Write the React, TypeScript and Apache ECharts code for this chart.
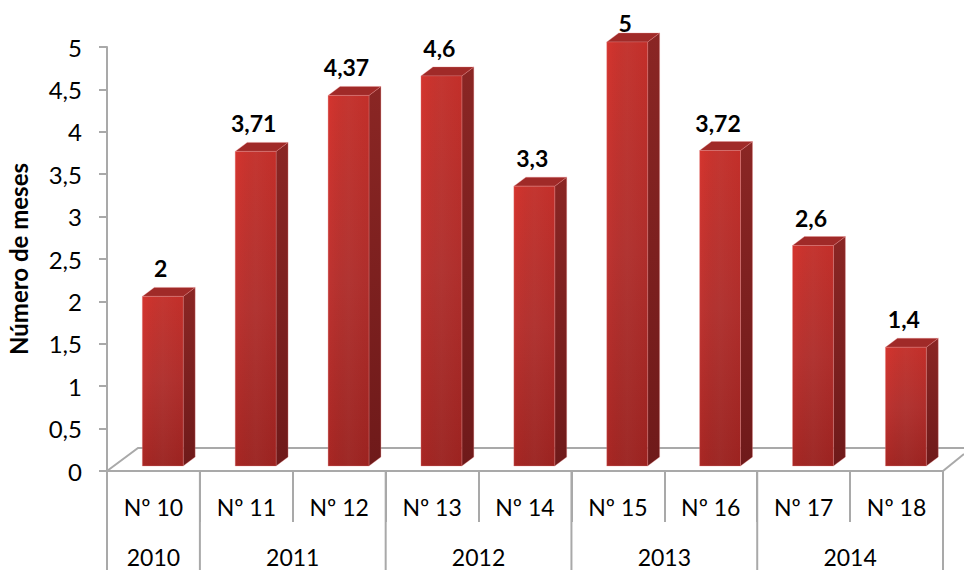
import React, { useEffect, useRef } from "react";
import * as echarts from "echarts";

const categories = ["Nº 10", "Nº 11", "Nº 12", "Nº 13", "Nº 14", "Nº 15", "Nº 16", "Nº 17", "Nº 18"];
const values = [2, 3.71, 4.37, 4.6, 3.3, 5, 3.72, 2.6, 1.4];
const yearLabels = ["2010", "2011", "2012", "2013", "2014"];
const yearSpans = [1, 2, 2, 2, 2];

const FONT = "Lato, Carlito, sans-serif";
const GREY = "#a9a9a9";
const comma = (v: number) => String(v).replace(".", ",");

const yearData: number[][] = [];
let cursor = 0;
yearSpans.forEach((s) => {
  yearData.push([cursor, 0]);
  cursor += s;
});

function v(stops: string[], horizontal = true) {
  return new echarts.graphic.LinearGradient(
    0,
    0,
    horizontal ? 1 : 0,
    horizontal ? 0 : 1,
    stops.map((color, i) => ({ offset: i / (stops.length - 1), color }))
  );
}

function renderBar(params: any, api: any) {
  const band = api.size([1, 0])[0];
  const val = api.value(1);
  const base = api.coord([api.value(0), 0]);
  const top = api.coord([api.value(0), val]);
  const w = band * 0.44;
  const dx = 12;
  const dy = 9;
  const x0 = base[0] + band * 0.1 - w / 2;
  const x1 = x0 + w;
  const yb = base[1] - 5;
  const yt = top[1] - 5;
  const halo = "rgba(235,140,140,0.55)";
  const labelY = Math.max(yt - 27, 24);
  return {
    type: "group",
    children: [
      {
        type: "polygon",
        shape: { points: [[x1, yt], [x1 + dx, yt - dy], [x1 + dx, yb - dy], [x1, yb]] },
        style: { fill: v(["#8a2624", "#6f1a1a"], false), stroke: halo, lineWidth: 0.6 },
      },
      {
        type: "polygon",
        shape: { points: [[x0, yt], [x0 + dx, yt - dy], [x1 + dx, yt - dy], [x1, yt]] },
        style: { fill: "#a02a28", stroke: halo, lineWidth: 0.6 },
      },
      {
        type: "rect",
        shape: { x: x0, y: yt, width: w, height: yb - yt },
        style: { fill: v(["#d5352f", "#bf3431", "#a92724"], false), stroke: halo, lineWidth: 0.6 },
      },
      {
        type: "rect",
        shape: { x: x0, y: yt, width: w, height: yb - yt },
        style: { fill: v(["rgba(0,0,0,0)", "rgba(90,60,60,0.14)", "rgba(60,0,0,0.12)"], true) },
      },
      {
        type: "text",
        style: {
          text: comma(val),
          x: (x0 + x1) / 2 - 2,
          y: labelY - 1,
          textAlign: "center",
          textVerticalAlign: "middle",
          fill: "#000",
          font: `bold 23px ${FONT}`,
        },
      },
    ],
  };
}

function renderYear(params: any, api: any) {
  const band = api.size([1, 0])[0];
  const i = params.dataIndex;
  const span = yearSpans[i];
  const first = api.coord([api.value(0), 0]);
  const xs = first[0] - band / 2;
  const xe = xs + band * span;
  const y0 = first[1];
  const children: any[] = [
    {
      type: "line",
      shape: { x1: xs, y1: y0, x2: xs, y2: 570 },
      style: { stroke: GREY, lineWidth: 2 },
    },
    {
      type: "text",
      style: {
        text: yearLabels[i],
        x: (xs + xe) / 2,
        y: 557,
        textAlign: "center",
        textVerticalAlign: "middle",
        fill: "#000",
        font: `23px ${FONT}`,
      },
    },
  ];
  if (i === yearLabels.length - 1) {
    children.push({
      type: "line",
      shape: { x1: xe, y1: y0, x2: xe, y2: 570 },
      style: { stroke: GREY, lineWidth: 2 },
    });
  }
  return { type: "group", children };
}

export default function App() {
  const ref = useRef<HTMLDivElement>(null);
  useEffect(() => {
    document.body.style.margin = "0";
    const chart = echarts.init(ref.current!, undefined, { renderer: "svg" });
    chart.setOption({
      animation: false,
      backgroundColor: "#fff",
      grid: { left: 107, right: 21, top: 47, bottom: 99, outerBoundsMode: "none" },
      graphic: [
        {
          type: "polyline",
          z: 0,
          shape: { points: [[107, 471], [138, 448], [964, 448]] },
          style: { stroke: GREY, lineWidth: 2, fill: "none" },
        },
        {
          type: "line",
          z: 0,
          shape: { x1: 943, y1: 471, x2: 964, y2: 454 },
          style: { stroke: GREY, lineWidth: 2 },
        },
      ],
      xAxis: {
        type: "category",
        data: categories,
        axisLine: { lineStyle: { color: GREY, width: 2 } },
        axisTick: { show: true, interval: 0, length: 51, lineStyle: { color: GREY, width: 2 } },
        axisLabel: { interval: 0, color: "#000", fontFamily: FONT, fontSize: 23, margin: 24 },
      },
      yAxis: {
        type: "value",
        min: 0,
        max: 5,
        interval: 0.5,
        name: "Número de meses",
        nameLocation: "middle",
        nameGap: 77,
        nameRotate: 90,
        nameTextStyle: { color: "#000", fontFamily: FONT, fontSize: 24, fontWeight: "bold" },
        axisLine: { show: true, lineStyle: { color: GREY, width: 2 } },
        axisTick: { show: true, length: 8, lineStyle: { color: GREY, width: 2 } },
        axisLabel: {
          color: "#000",
          fontFamily: FONT,
          fontSize: 24,
          margin: 25,
          formatter: (x: number) => comma(x),
        },
        splitLine: { show: false },
      },
      series: [
        {
          type: "custom",
          name: "Anos",
          renderItem: renderYear,
          data: yearData,
          encode: { x: 0, y: 1 },
          clip: false,
          z: 1,
          silent: true,
        },
        {
          type: "custom",
          name: "Número de meses",
          renderItem: renderBar,
          data: values.map((val, i) => [i, val]),
          encode: { x: 0, y: 1 },
          clip: false,
          z: 3,
          silent: true,
        },
      ],
    });
    return () => chart.dispose();
  }, []);
  return <div ref={ref} style={{ position: "absolute", left: 0, top: 0, width: 964, height: 570, overflow: "hidden" }} />;
}
